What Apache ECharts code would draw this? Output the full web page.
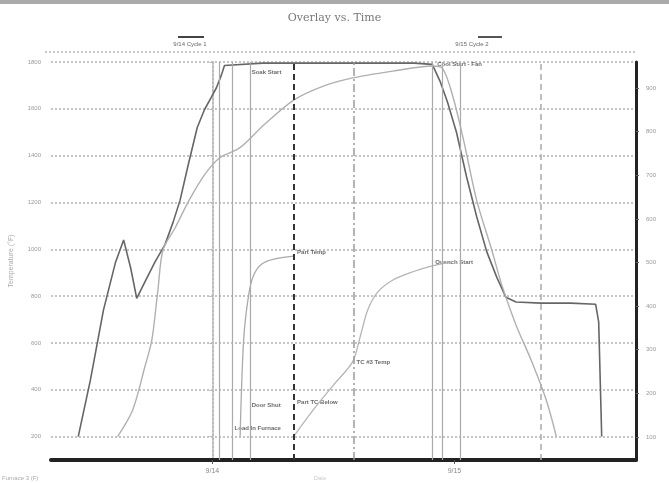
<!DOCTYPE html>
<html><head><meta charset="utf-8">
<script src="https://cdn.jsdelivr.net/npm/echarts@6/dist/echarts.min.js"></script>
<style>html,body{margin:0;padding:0;background:#fff}#c{width:669px;height:483px}</style>
</head><body><div id="c"></div><script>
// ---- data ----
const chartTitle = 'Overlay vs. Time';
const leftTicks = [200, 400, 600, 800, 1000, 1200, 1400, 1600, 1800];
const rightTicks = [100, 200, 300, 400, 500, 600, 700, 800, 900];
const xTickValues = [0, 24];
const xTickLabels = ['9/14', '9/15'];
// hours from 9/14 00:00, temperature (F)
const airTemp = [[-13.3,200],[-12.1,440],[-10.8,740],[-9.6,945],[-8.8,1040],[-8.1,920],[-7.5,790],[-6.7,860],[-5.7,945],[-4.7,1020],[-3.9,1115],[-3.2,1210],[-2.4,1360],[-1.5,1520],[-0.8,1595],[-0.1,1650],[0.4,1690],[0.9,1745],[1.2,1785],[5,1795],[10,1795],[15,1795],[20,1795],[21.8,1790],[22.6,1715],[23.3,1630],[24.2,1500],[25.2,1310],[26.2,1140],[27.2,990],[28.2,880],[29.1,795],[30.1,775],[32.6,770],[35.5,770],[38,765],[38.3,690],[38.6,200]];
const loadTemp = [[-9.4,200],[-7.9,314],[-6.7,497],[-6.0,613],[-5.4,826],[-4.9,997],[-3.7,1091],[-2.3,1210],[-0.8,1317],[0.7,1390],[2.7,1433],[5.1,1531],[8.1,1638],[11.0,1697],[13.9,1732],[17.9,1761],[21.8,1783],[22.8,1774],[23.8,1659],[24.9,1467],[26.2,1210],[27.7,997],[28.7,847],[30.1,677],[31.6,527],[33.1,356],[34.1,200]];
const partA = [[2.75,200],[3.1,613],[3.6,805],[4.1,890],[4.9,937],[6.1,958],[8.05,971]];
const partB = [[8.05,200],[10.0,314],[12.0,420],[13.9,519],[14.7,634],[15.4,741],[16.4,818],[17.9,869],[19.8,903],[21.8,929],[23.75,946]];
const eventHours = [0.7, 2.0, 3.8, 8.1, 14.0, 21.8, 22.8, 24.6, 32.6];
const notes = [
  [3.7, 1757, 'Soak Start'],
  [22.1, 1791, 'Cool Start - Fan'],
  [3.7, 335, 'Door Shut'],
  [2.0, 237, 'Load In Furnace'],
  [8.2, 348, 'Part TC Below'],
  [8.2, 988, 'Part Temp'],
  [14.1, 519, 'TC #3 Temp'],
  [21.9, 946, 'Quench Start']
];

// ---- styles ----
const eventStyles = ['solid','solid','solid','dashedBold','dashdot','solid','solid','solid','dashed'];
function eventLine(t){
  if (t === 'dashedBold') return {color:'#333', width:2, type:[6,4]};
  if (t === 'dashdot') return {color:'#999', width:1.5, type:[8,3,2,3]};
  if (t === 'dashed') return {color:'#aaa', width:1.5, type:[6,4]};
  return {color:'#aaa', width:1.2, type:'solid'};
}

const chart = echarts.init(document.getElementById('c'));
chart.setOption({
  animation: false,
  backgroundColor: '#fff',
  title: {text: chartTitle, left: 'center', top: 8,
    textStyle: {fontFamily: 'DejaVu Serif', fontSize: 11, color: '#777', fontWeight: 'normal'}},
  grid: {left: 45, right: 33, top: 62, bottom: 23},
  xAxis: {
    type: 'value', min: -16, max: 42,
    axisLine: {show: true, onZero: false, lineStyle: {color: '#222', width: 4}},
    axisTick: {show: true, customValues: xTickValues, length: 4, lineStyle: {color: '#555'}},
    axisLabel: {customValues: xTickValues, fontSize: 7, color: '#888', margin: 8,
      formatter: v => xTickLabels[xTickValues.indexOf(v)] || ''},
    splitLine: {show: false}
  },
  yAxis: [
    {type: 'value', min: 100, max: 1800, name: 'Temperature (°F)', nameLocation: 'middle', nameGap: 36,
      nameTextStyle: {fontSize: 7, color: '#aaa'},
      axisLine: {show: true, lineStyle: {color: '#bbb', width: 2, type: 'dotted'}},
      axisTick: {show: true, customValues: leftTicks, length: 3, lineStyle: {color: '#bbb'}},
      axisLabel: {customValues: leftTicks, fontSize: 6, color: '#999', margin: 10, formatter: v => String(v)},
      splitLine: {show: true, lineStyle: {color: '#c4c4c4', width: 2, type: 'dotted'}}
    },
    {type: 'value', min: 47, max: 960, position: 'right',
      axisLine: {show: true, lineStyle: {color: '#222', width: 3}},
      axisTick: {show: true, customValues: rightTicks, length: 3, lineStyle: {color: '#666'}},
      axisLabel: {customValues: rightTicks, fontSize: 6, color: '#999', margin: 10, formatter: v => String(v)},
      splitLine: {show: false}
    }
  ],
  series: [
    {name: 'Air Temp', type: 'line', data: airTemp, symbol: 'none', smooth: false,
      lineStyle: {color: '#666', width: 1.6},
      markLine: {silent: true, symbol: 'none', label: {show: false},
        data: eventHours.map((h, i) => ({xAxis: h, lineStyle: eventLine(eventStyles[i])}))}
    },
    {name: 'Load Temp', type: 'line', data: loadTemp, symbol: 'none', smooth: 0.3,
      lineStyle: {color: '#b0b0b0', width: 1.4}},
    {name: 'Part A', type: 'line', data: partA, symbol: 'none', smooth: 0.3,
      lineStyle: {color: '#aaa', width: 1.3}},
    {name: 'Part B', type: 'line', data: partB, symbol: 'none', smooth: 0.3,
      lineStyle: {color: '#b5b5b5', width: 1.3}},
    {name: 'Notes', type: 'scatter', data: notes, symbolSize: 0, silent: true,
      label: {show: true, position: 'right', distance: 2, formatter: p => p.data[2],
        fontSize: 6, color: '#444', fontWeight: 'bold'}}
  ],
  graphic: [
    {type: 'rect', shape: {x: 0, y: 0, width: 669, height: 4}, style: {fill: '#aaa'}},
    {type: 'line', shape: {x1: 45, y1: 52, x2: 636, y2: 52}, style: {stroke: '#c8c8c8', lineWidth: 2, lineDash: [2, 2]}},
    {type: 'rect', shape: {x: 178, y: 36, width: 26, height: 2}, style: {fill: '#444'}},
    {type: 'text', x: 190, y: 44, style: {text: '9/14 Cycle 1', fontSize: 6, fill: '#666', align: 'center', verticalAlign: 'middle'}},
    {type: 'rect', shape: {x: 478, y: 36, width: 24, height: 2}, style: {fill: '#555'}},
    {type: 'text', x: 472, y: 44, style: {text: '9/15 Cycle 2', fontSize: 6, fill: '#666', align: 'center', verticalAlign: 'middle'}},
    {type: 'text', x: 2, y: 478, style: {text: 'Furnace 3 (F)', fontSize: 6, fill: '#aaa', verticalAlign: 'middle'}},
    {type: 'text', x: 320, y: 478, style: {text: 'Date', fontSize: 6, fill: '#ccc', align: 'center', verticalAlign: 'middle'}}
  ]
});
</script></body></html>
